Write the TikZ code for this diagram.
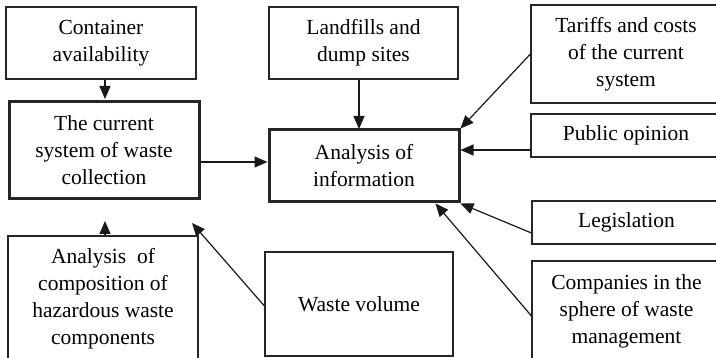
\documentclass[tikz,border=0pt]{standalone}
\usepackage{fontspec}
\setmainfont{Liberation Serif}
\usetikzlibrary{arrows.meta,calc}
\begin{document}
\begin{tikzpicture}[x=1pt,y=-1pt,
  box/.style={draw=black!85,line width=1.1pt,rectangle,align=center,inner sep=0pt,
    font=\fontsize{21.5}{27}\selectfont},
  mainbox/.style={box,line width=3pt},
  arr/.style={draw=black!90,line width=1.2pt,-{Triangle[length=13pt,width=11pt]}}]
\useasboundingbox (0,0) rectangle (716,358);
\clip (0,0) rectangle (716,358);
\fill[white] (0,0) rectangle (716,358);
\node[box,minimum width=190pt,minimum height=72pt] (cont) at (101,43) {Container\\availability};
\node[mainbox,minimum width=190pt,minimum height=97pt] (cur) at (104,150.5) {The current\\system of waste\\collection};
\node[box,minimum width=189pt,minimum height=72pt] (land) at (363.5,43) {Landfills and\\dump sites};
\node[mainbox,minimum width=190pt,minimum height=72pt] (ana) at (364,166) {Analysis of\\information};
\node[box,minimum width=190pt,minimum height=98pt] (tar) at (626,54) {Tariffs and costs\\of the current\\system};
\node[box,minimum width=190pt,minimum height=43pt] (pub) at (626,135.5) {Public opinion};
\node[box,minimum width=189pt,minimum height=43pt] (leg) at (626.5,222.5) {Legislation};
\node[box,minimum width=189pt,minimum height=100pt] (comp) at (626.5,311) {Companies in the\\sphere of waste\\management};
\node[box,minimum width=190pt,minimum height=126pt] (hz) at (103,299) {Analysis~~of\\composition of\\hazardous waste\\components};
\node[box,minimum width=188pt,minimum height=104pt] (wv) at (359,304) {Waste volume};
\coordinate (hztip) at (105,221);
\coordinate (wvtip) at (192,223);
\draw[arr] (cont.south -| 105,0) -- (105,99);
\draw[arr] (land.south -| 359,0) -- (359,129);
\draw[arr] (cur.east |- 0,162) -- (ana.west |- 0,162);
\draw[arr] (tar.west) -- (ana.north east);
\draw[arr] (pub.west |- 0,150) -- (ana.east |- 0,150);
\draw[arr] (leg.west |- 0,233) -- (ana.south east);
\draw[arr] (comp.west |- 0,316) -- ($(ana.south east)+(-25,0)$);
\draw[arr] (hz.north -| hztip) -- (hztip);
\draw[arr] (wv.west |- 0,306) -- (wvtip);
\end{tikzpicture}
\end{document}
